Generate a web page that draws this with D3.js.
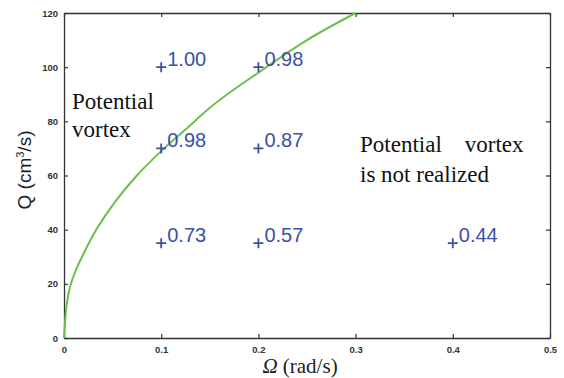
<!DOCTYPE html>
<html>
<head>
<meta charset="utf-8">
<script src="https://cdn.jsdelivr.net/npm/d3@7"></script>
<style>
  body { margin: 0; background: #fff; }
</style>
</head>
<body>
<div id="chart"></div>
<script>
// boundary curve
var curveOmega = [0, 0.002, 0.005, 0.01, 0.02, 0.03, 0.05, 0.075, 0.1, 0.125, 0.15, 0.2, 0.25, 0.3];
var curveQ     = [0, 10, 17, 23, 31, 38, 49, 60, 69, 77, 85, 98, 110, 120];

// measured points and their labels
var pointOmega = [0.1, 0.2, 0.1, 0.2, 0.1, 0.2, 0.4];
var pointQ     = [100, 100, 70, 70, 35, 35, 35];
var pointLabel = ["1.00", "0.98", "0.98", "0.87", "0.73", "0.57", "0.44"];

var xTicks = [0, 0.1, 0.2, 0.3, 0.4, 0.5];
var yTicks = [0, 20, 40, 60, 80, 100, 120];

var SERIF = "Liberation Serif, Times New Roman, serif";
var SANS = "Liberation Sans, Arial, sans-serif";

var width = 564, height = 378;
var margin = {top: 13, right: 14, bottom: 40, left: 64};
var w = width - margin.left - margin.right;
var h = height - margin.top - margin.bottom;

var svg = d3.select("#chart").append("svg")
    .attr("width", width)
    .attr("height", height);

var g = svg.append("g").attr("transform", "translate(" + margin.left + "," + margin.top + ")");

var x = d3.scaleLinear().domain([0, 0.5]).range([0, w]);
var y = d3.scaleLinear().domain([0, 120]).range([h, 0]);

// axes, ticks pointing inward, box closed with top/right axes
var xAxis = g.append("g").attr("transform", "translate(0," + h + ")")
    .call(d3.axisBottom(x).tickValues(xTicks).tickSizeInner(-4).tickSizeOuter(0).tickPadding(8).tickFormat(d3.format("")));
var yAxis = g.append("g")
    .call(d3.axisLeft(y).tickValues(yTicks).tickSizeInner(-4).tickSizeOuter(0).tickPadding(6));
g.append("g").call(d3.axisTop(x).tickValues(xTicks).tickSizeInner(-4).tickSizeOuter(0).tickFormat(""));
g.append("g").attr("transform", "translate(" + w + ",0)")
    .call(d3.axisRight(y).tickValues(yTicks).tickSizeInner(-4).tickSizeOuter(0).tickFormat(""));

g.selectAll(".domain").attr("stroke", "#333").attr("stroke-width", 1.3);
g.selectAll(".tick line").attr("stroke", "#333").attr("stroke-width", 1.2);
g.selectAll(".tick text")
    .attr("font-family", SANS)
    .attr("font-size", 9.5)
    .attr("font-weight", "bold")
    .attr("fill", "#333");

// green boundary curve
var curveData = curveOmega.map(function(d, i) { return [d, curveQ[i]]; });
var line = d3.line()
    .x(function(d) { return x(d[0]); })
    .y(function(d) { return y(d[1]); })
    .curve(d3.curveMonotoneX);

g.append("path")
    .datum(curveData)
    .attr("d", line)
    .attr("fill", "none")
    .attr("stroke", "#6cc04a")
    .attr("stroke-width", 2);

// points as plus signs with values
var blue = "#3b4fa6";
var pts = g.selectAll(".pt").data(pointOmega).enter().append("g")
    .attr("class", "pt")
    .attr("transform", function(d, i) { return "translate(" + x(d) + "," + y(pointQ[i]) + ")"; });

pts.append("path")
    .attr("d", "M-5,0H5M0,-5V5")
    .attr("stroke", blue)
    .attr("stroke-width", 1.8)
    .attr("fill", "none");

pts.append("text")
    .attr("x", 6)
    .attr("y", -1)
    .attr("font-family", SANS)
    .attr("font-size", 20)
    .attr("fill", blue)
    .text(function(d, i) { return pointLabel[i]; });

// region annotations
function note(tx, ty, s) {
    g.append("text")
        .attr("x", tx).attr("y", ty)
        .attr("font-family", SERIF)
        .attr("font-size", 23)
        .attr("fill", "#111")
        .style("white-space", "pre")
        .text(s);
}
note(8, 96, "Potential");
note(8, 124, "vortex");
note(296, 139, "Potential    vortex");
note(296, 169, "is not realized");

// axis titles
var xt = svg.append("text")
    .attr("x", 300)
    .attr("y", 373)
    .attr("text-anchor", "middle")
    .attr("font-family", SERIF)
    .attr("font-size", 21)
    .attr("fill", "#222");
xt.append("tspan").attr("font-style", "italic").text("Ω");
xt.append("tspan").text(" (rad/s)");

var yt = svg.append("text")
    .attr("transform", "translate(31,170) rotate(-90)")
    .attr("text-anchor", "middle")
    .attr("font-family", SANS)
    .attr("font-size", 19)
    .attr("fill", "#222");
yt.append("tspan").text("Q (cm");
yt.append("tspan").attr("font-size", 11).attr("dy", -7).text("3");
yt.append("tspan").attr("dy", 7).text("/s)");
</script>
</body>
</html>
